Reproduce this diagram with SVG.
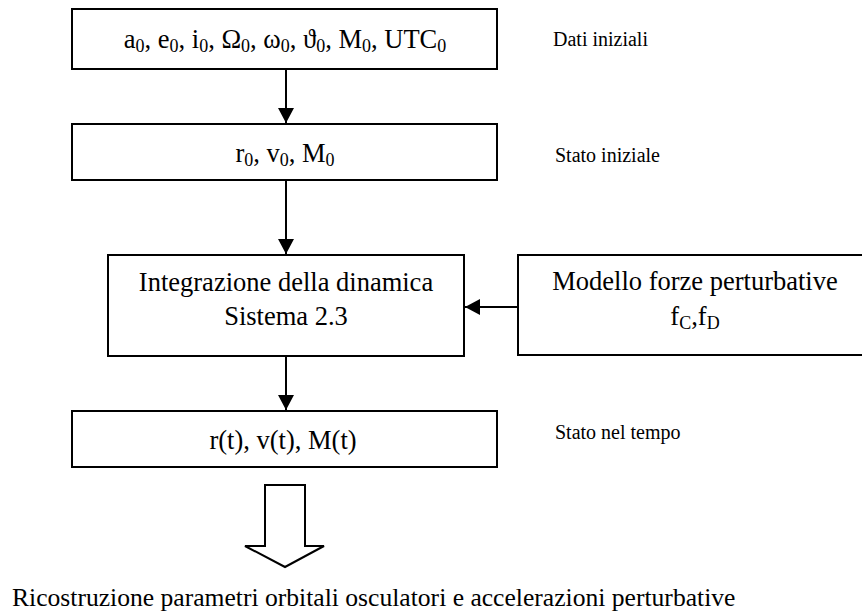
<svg xmlns="http://www.w3.org/2000/svg" width="862" height="613" viewBox="0 0 862 613">
<style>
.box{fill:#fff;stroke:#000;stroke-width:2}
.t{font-family:"Liberation Serif","Times New Roman",serif;font-size:26.5px;fill:#000}
.s{font-family:"Liberation Serif","Times New Roman",serif;font-size:20px;fill:#000}
.c{text-anchor:middle}
.sub{font-size:18px}
.ln{stroke:#000;stroke-width:2;fill:none}
</style>
<defs>
<marker id="ah" markerWidth="16" markerHeight="16" viewBox="0 0 16 16" refX="15" refY="8" orient="auto" markerUnits="userSpaceOnUse">
<path d="M0,0 L15,8 L0,16 Z" fill="#000"/>
</marker>
</defs>
<g id="connectors">
<line class="ln" x1="286" y1="69" x2="286" y2="123" marker-end="url(#ah)"/>
<line class="ln" x1="286" y1="180" x2="286" y2="254" marker-end="url(#ah)"/>
<line class="ln" x1="518" y1="307" x2="465" y2="307" marker-end="url(#ah)"/>
<line class="ln" x1="286" y1="356" x2="286" y2="410" marker-end="url(#ah)"/>
<path id="bigarrow" class="ln" stroke-width="1.5" d="M265,485 L305,485 L305,546 L324,546 L285,567 L245,546 L265,546 Z"/>
</g>
<g id="n1">
<rect class="box" x="72" y="9" width="425" height="60"/>
<text class="t c" x="285" y="48">a<tspan class="sub" dy="4">0</tspan><tspan dy="-4">, e</tspan><tspan class="sub" dy="4">0</tspan><tspan dy="-4">, i</tspan><tspan class="sub" dy="4">0</tspan><tspan dy="-4">, Ω</tspan><tspan class="sub" dy="4">0</tspan><tspan dy="-4">, ω</tspan><tspan class="sub" dy="4">0</tspan><tspan dy="-4">, ϑ</tspan><tspan class="sub" dy="4">0</tspan><tspan dy="-4">, M</tspan><tspan class="sub" dy="4">0</tspan><tspan dy="-4">, UTC</tspan><tspan class="sub" dy="4">0</tspan></text>
</g>
<g id="l1"><text class="s" x="553" y="46">Dati iniziali</text></g>
<g id="n2">
<rect class="box" x="72" y="124" width="425" height="56"/>
<text class="t c" x="285" y="162">r<tspan class="sub" dy="4">0</tspan><tspan dy="-4">, v</tspan><tspan class="sub" dy="4">0</tspan><tspan dy="-4">, M</tspan><tspan class="sub" dy="4">0</tspan></text>
</g>
<g id="l2"><text class="s" x="555" y="162">Stato iniziale</text></g>
<g id="n3">
<rect class="box" x="108" y="255" width="356" height="101"/>
<text class="t c" x="286" y="291">Integrazione della dinamica</text>
<text class="t c" x="286" y="325">Sistema 2.3</text>
</g>
<g id="n4">
<rect class="box" x="518" y="255" width="354" height="100"/>
<text class="t c" x="695" y="290">Modello forze perturbative</text>
<text class="t c" x="695" y="325">f<tspan class="sub" dy="4">C</tspan><tspan dy="-4">,f</tspan><tspan class="sub" dy="4">D</tspan></text>
</g>
<g id="n5">
<rect class="box" x="72" y="411" width="425" height="56"/>
<text class="t c" x="283" y="449">r(t), v(t), M(t)</text>
</g>
<g id="l3"><text class="s" x="555" y="439">Stato nel tempo</text></g>
<g id="l4"><text class="t" style="font-size:25.6px" x="12" y="606">Ricostruzione parametri orbitali osculatori e accelerazioni perturbative</text></g>
</svg>
